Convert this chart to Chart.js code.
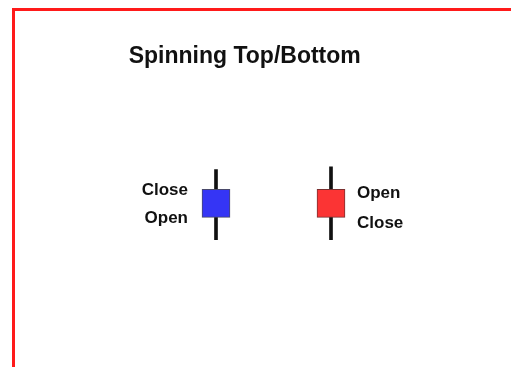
<!DOCTYPE html>
<html>
<head>
<meta charset="utf-8">
<script src="https://cdn.jsdelivr.net/npm/chart.js@4.4.0/dist/chart.umd.min.js"></script>
<style>
  html, body { margin: 0; padding: 0; background: #fff; overflow: hidden; }
  #wrap { position: relative; width: 511px; height: 367px; }
  #frame {
    position: absolute; left: 12px; top: 8px; width: 520px; height: 380px;
    border-left: 3px solid #ff1a1a; border-top: 3px solid #ff1a1a;
  }
  canvas { position: absolute; left: 0; top: 0; }
</style>
</head>
<body>
<div id="wrap">
  <div id="frame"></div>
  <canvas id="chart" width="511" height="367"></canvas>
</div>
<script>
// ---- data ----
const TITLE = 'Spinning Top/Bottom';
const candleX = [1, 2];
const openVals = [20, 30];
const closeVals = [30, 20];
const highVals = [37, 38];
const lowVals = [12, 12];
const bodyColors = ['#3535f5', '#fb3434'];
const bodyBorders = ['#4a4a6a', '#7a3030'];

// wicks behind, bodies on top
const wickData = candleX.map((x, i) => ({ x: x, y: [lowVals[i], highVals[i]] }));
const bodyData = candleX.map((x, i) => ({ x: x, y: [openVals[i], closeVals[i]] }));

// Open/Close text next to each body
const ocLabels = {
    id: 'ocLabels',
    afterDatasetsDraw(chart) {
        const { ctx, scales } = chart;
        ctx.save();
        ctx.font = 'bold 17px "Liberation Sans", Arial, sans-serif';
        ctx.fillStyle = '#111';
        ctx.textBaseline = 'middle';
        candleX.forEach((x, i) => {
            const px = scales.x.getPixelForValue(x);
            const yOpen = scales.y.getPixelForValue(openVals[i]);
            const yClose = scales.y.getPixelForValue(closeVals[i]);
            if (closeVals[i] >= openVals[i]) {
                ctx.textAlign = 'right';
                ctx.fillText('Close', px - 28, yClose + 1);
                ctx.fillText('Open', px - 28, yOpen + 1);
            } else {
                ctx.textAlign = 'left';
                ctx.fillText('Open', px + 26, yOpen + 4);
                ctx.fillText('Close', px + 26, yClose + 6);
            }
        });
        ctx.restore();
    }
};

new Chart(document.getElementById('chart'), {
    type: 'bar',
    data: {
        datasets: [
            {
                label: 'Body',
                data: bodyData,
                backgroundColor: bodyColors,
                borderColor: bodyBorders,
                borderWidth: 1,
                borderSkipped: false,
                barThickness: 28,
                grouped: false,
                order: 1
            },
            {
                label: 'Wick',
                data: wickData,
                backgroundColor: '#111',
                borderWidth: 0,
                barThickness: 3,
                grouped: false,
                order: 2
            }
        ]
    },
    options: {
        responsive: false,
        animation: false,
        layout: { padding: { left: 14.75, right: 36.25, top: 0, bottom: 121.7 } },
        scales: {
            x: { type: 'linear', min: -0.75, max: 3.25, offset: false, display: false },
            y: { min: 10, max: 40, display: false }
        },
        plugins: {
            legend: { display: false },
            tooltip: { enabled: false },
            title: {
                display: true,
                text: TITLE,
                color: '#111',
                font: { family: '"Liberation Sans", Arial, sans-serif', size: 23, weight: 'bold', lineHeight: 1.2 },
                padding: { top: 43.2, bottom: 90.5 }
            }
        }
    },
    plugins: [ocLabels]
});
</script>
</body>
</html>
